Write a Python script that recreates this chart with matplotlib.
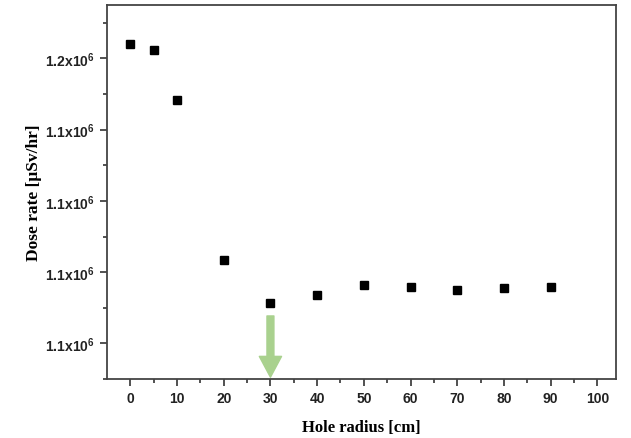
import matplotlib
matplotlib.use("Agg")
import matplotlib.pyplot as plt
from matplotlib.ticker import FixedLocator, FuncFormatter

# data
hole_radius = [0, 5, 10, 20, 30, 40, 50, 60, 70, 80, 90]
dose_rate = [1164000, 1162500, 1148200, 1103400, 1091350, 1093500,
             1096300, 1095900, 1094900, 1095600, 1095700]

x_ticks = [0, 10, 20, 30, 40, 50, 60, 70, 80, 90, 100]
y_ticks = [1.08e6, 1.10e6, 1.12e6, 1.14e6, 1.16e6]
y_minor = [1.07e6, 1.09e6, 1.11e6, 1.13e6, 1.15e6, 1.17e6]

plt.rcParams['mathtext.default'] = 'regular'

fig = plt.figure(figsize=(6.31, 4.39), dpi=100)
ax = fig.add_axes([107 / 631, 1 - 380 / 439, (616 - 107) / 631, (380 - 6) / 439])

ax.plot(hole_radius, dose_rate, 's', color='black', markersize=6)

# green arrow marking the 30 cm radius
ax.annotate('', xy=(30, 1.0705e6), xytext=(30, 1.0877e6),
            arrowprops=dict(arrowstyle='simple,head_width=1.6,head_length=1.5,tail_width=0.5',
                            color='#a9d18e', mutation_scale=10, shrinkA=0, shrinkB=0))

ax.set_xlim(-5, 104)
ax.set_ylim(1.07e6, 1.175e6)

ax.set_xticks(x_ticks)
ax.xaxis.set_minor_locator(FixedLocator([5, 15, 25, 35, 45, 55, 65, 75, 85, 95]))
ax.set_yticks(y_ticks)
ax.yaxis.set_minor_locator(FixedLocator(y_minor))
ax.yaxis.set_major_formatter(FuncFormatter(lambda v, p: f"{v / 1e6:.1f}x10$^6$"))

ax.tick_params(which='both', direction='out', top=False, right=False, color='#333333', width=1.2)
ax.tick_params(which='major', length=5, pad=4)
ax.tick_params(which='minor', length=3)
for lbl in ax.get_xticklabels() + ax.get_yticklabels():
    lbl.set_fontfamily('Liberation Sans')
    lbl.set_fontweight('bold')
    lbl.set_fontsize(10)
    lbl.set_color('#222222')

for sp in ax.spines.values():
    sp.set_linewidth(1.3)
    sp.set_color('#444444')

ax.set_xlabel('Hole radius [cm]', fontfamily='Liberation Serif', fontweight='bold',
              fontsize=12, labelpad=10)
ax.set_ylabel('Dose rate [μSv/hr]', fontfamily='Liberation Serif', fontweight='bold',
              fontsize=12.5, labelpad=2)

fig.savefig('out.png', dpi=100)
